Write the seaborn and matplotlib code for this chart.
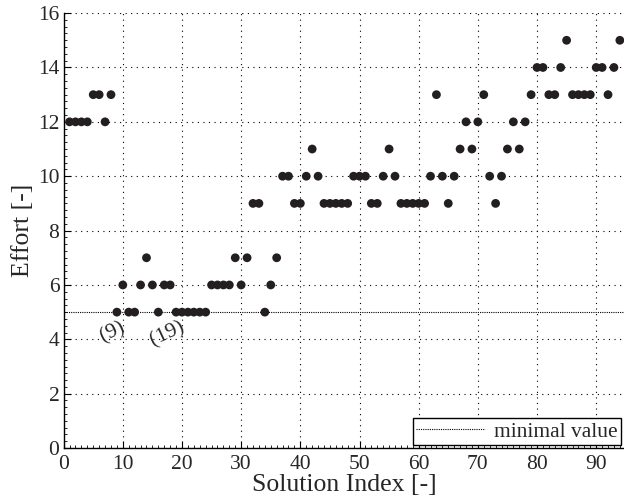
import matplotlib
matplotlib.use("Agg")
import matplotlib.pyplot as plt
from matplotlib.ticker import MultipleLocator
import numpy as np
import pandas as pd
import seaborn as sns

# effort of each solution (index 1..94)
solution_index = list(range(1, 95))
effort = [12, 12, 12, 12, 13, 13, 12, 13, 5, 6,
          5, 5, 6, 7, 6, 5, 6, 6, 5, 5,
          5, 5, 5, 5, 6, 6, 6, 6, 7, 6,
          7, 9, 9, 5, 6, 7, 10, 10, 9, 9,
          10, 11, 10, 9, 9, 9, 9, 9, 10, 10,
          10, 9, 9, 10, 11, 10, 9, 9, 9, 9,
          9, 10, 13, 10, 9, 10, 11, 12, 11, 12,
          13, 10, 9, 10, 11, 12, 11, 12, 13, 14,
          14, 13, 13, 14, 15, 13, 13, 13, 13, 14,
          14, 13, 14, 15]
minimal_value = 5
annotations = [("(9)", 8.3, 4.25), ("(19)", 17.6, 4.2)]

df = pd.DataFrame({"index": solution_index, "effort": effort})

sns.set_style("ticks")
plt.rcParams["font.family"] = ["Liberation Serif", "DejaVu Serif"]
plt.rcParams["xtick.direction"] = "in"
plt.rcParams["ytick.direction"] = "in"

fig = plt.figure(figsize=(6.24, 5.04), dpi=100)
ax = fig.add_axes([0.102, 0.111, 0.898, 0.863])

grid_style = dict(color="black", linestyle=(0, (1, 4)), linewidth=0.8)
ax.set_axisbelow(True)
ax.grid(True, which="major", **grid_style)

ax.axhline(minimal_value, color="black", linestyle=(0, (1, 1)), linewidth=0.8,
           label="minimal value", zorder=2)
sns.scatterplot(data=df, x="index", y="effort", color="#231f20", s=40,
                edgecolor="none", ax=ax, zorder=3, clip_on=False)

for txt, tx, ty in annotations:
    ax.text(tx, ty, txt, fontsize=15.5, rotation=25, ha="center", va="center")

ax.set_xlim(0, 94.7)
ax.set_ylim(0, 16)
ax.xaxis.set_major_locator(MultipleLocator(10))
ax.xaxis.set_minor_locator(MultipleLocator(1))
ax.yaxis.set_major_locator(MultipleLocator(2))
ax.yaxis.set_minor_locator(MultipleLocator(0.25))
ax.tick_params(which="major", length=5, width=0.8, labelsize=15.5, color="black")
ax.tick_params(axis="x", which="major", pad=5)
ax.tick_params(axis="y", which="major", pad=3)
ax.tick_params(which="minor", length=2.5, width=0.6, color="black")

for side in ["top", "right"]:
    ax.spines[side].set_visible(False)
for side in ["left", "bottom"]:
    ax.spines[side].set_color("black")
    ax.spines[side].set_linewidth(1.0)

ax.set_xlabel("Solution Index [-]", fontsize=18.5, labelpad=0)
ax.set_ylabel("Effort [-]", fontsize=18.5, labelpad=3)

leg = ax.legend(loc="lower right", fontsize=15.5, frameon=True, fancybox=False,
                borderaxespad=0.15, handlelength=3.2, handletextpad=0.4,
                borderpad=0.15)
leg.get_frame().set_edgecolor("black")
leg.get_frame().set_linewidth(1.0)
leg.get_frame().set_alpha(1)

fig.savefig("out.png", dpi=100)
